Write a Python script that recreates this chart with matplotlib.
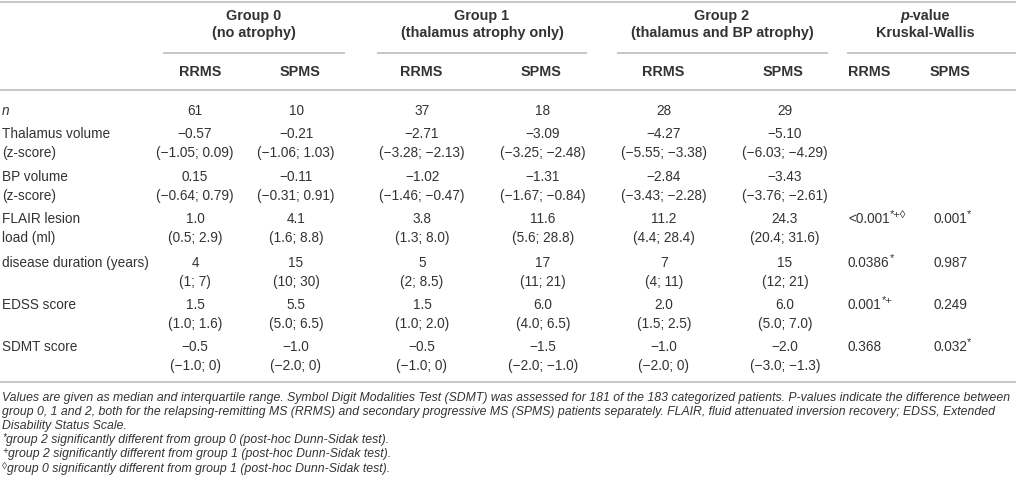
import matplotlib
matplotlib.use("Agg")
import matplotlib.pyplot as plt

# ---------------- data ----------------
groups = ["Group 0", "Group 1", "Group 2"]
group_sub = ["(no atrophy)", "(thalamus atrophy only)", "(thalamus and BP atrophy)"]
subtypes = ["RRMS", "SPMS"]

row_labels = [["n"], ["Thalamus volume", "(z-score)"], ["BP volume", "(z-score)"],
              ["FLAIR lesion", "load (ml)"], ["disease duration (years)"],
              ["EDSS score"], ["SDMT score"]]

n_vals = ["61", "10", "37", "18", "28", "29"]
thal_med = ["\u22120.57", "\u22120.21", "\u22122.71", "\u22123.09", "\u22124.27", "\u22125.10"]
thal_iqr = ["(\u22121.05; 0.09)", "(\u22121.06; 1.03)", "(\u22123.28; \u22122.13)",
            "(\u22123.25; \u22122.48)", "(\u22125.55; \u22123.38)", "(\u22126.03; \u22124.29)"]
bp_med = ["0.15", "\u22120.11", "\u22121.02", "\u22121.31", "\u22122.84", "\u22123.43"]
bp_iqr = ["(\u22120.64; 0.79)", "(\u22120.31; 0.91)", "(\u22121.46; \u22120.47)",
          "(\u22121.67; \u22120.84)", "(\u22123.43; \u22122.28)", "(\u22123.76; \u22122.61)"]
flair_med = ["1.0", "4.1", "3.8", "11.6", "11.2", "24.3"]
flair_iqr = ["(0.5; 2.9)", "(1.6; 8.8)", "(1.3; 8.0)", "(5.6; 28.8)", "(4.4; 28.4)", "(20.4; 31.6)"]
dur_med = ["4", "15", "5", "17", "7", "15"]
dur_iqr = ["(1; 7)", "(10; 30)", "(2; 8.5)", "(11; 21)", "(4; 11)", "(12; 21)"]
edss_med = ["1.5", "5.5", "1.5", "6.0", "2.0", "6.0"]
edss_iqr = ["(1.0; 1.6)", "(5.0; 6.5)", "(1.0; 2.0)", "(4.0; 6.5)", "(1.5; 2.5)", "(5.0; 7.0)"]
sdmt_med = ["\u22120.5", "\u22121.0", "\u22120.5", "\u22121.5", "\u22121.0", "\u22122.0"]
sdmt_iqr = ["(\u22121.0; 0)", "(\u22122.0; 0)", "(\u22121.0; 0)", "(\u22122.0; \u22121.0)",
            "(\u22122.0; 0)", "(\u22123.0; \u22121.3)"]

# p-values: (value, superscript) per row, RRMS and SPMS
p_rrms = [None, None, None, ("<0.001", "*+\u25ca"), ("0.0386", "*"), ("0.001", "*+"), ("0.368", "")]
p_spms = [None, None, None, ("0.001", "*"), ("0.987", ""), ("0.249", ""), ("0.032", "*")]

footnotes = [
    ("", "Values are given as median and interquartile range. Symbol Digit Modalities Test (SDMT) was assessed for 181 of the 183 categorized patients. P-values indicate the difference between"),
    ("", "group 0, 1 and 2, both for the relapsing-remitting MS (RRMS) and secondary progressive MS (SPMS) patients separately. FLAIR, fluid attenuated inversion recovery; EDSS, Extended"),
    ("", "Disability Status Scale."),
    ("*", "group 2 significantly different from group 0 (post-hoc Dunn-Sidak test)."),
    ("+", "group 2 significantly different from group 1 (post-hoc Dunn-Sidak test)."),
    ("\u25ca", "group 0 significantly different from group 1 (post-hoc Dunn-Sidak test)."),
]

# ---------------- layout ----------------
W, H = 1016, 498
FONT = "Liberation Sans"
FS = 9.8
HFS = 10.4
TXT = "#333333"
LINE = "#c6c6c6"

fig = plt.figure(figsize=(W / 100, H / 100), dpi=100)
ax = fig.add_axes([0, 0, 1, 1])
ax.set_xlim(0, W)
ax.set_ylim(H, 0)
ax.axis("off")
renderer = fig.canvas.get_renderer()


def txt(x, y, s, ha="center", **kw):
    kw.setdefault("fontsize", FS)
    kw.setdefault("color", TXT)
    kw.setdefault("family", FONT)
    return ax.text(x, y, s, ha=ha, va="center", **kw)


def right_edge(t):
    bb = t.get_window_extent(renderer=renderer)
    return ax.transData.inverted().transform((bb.x1, bb.y0))[0]


def sup_after(t, y, s, fs):
    if s:
        x = right_edge(t)
        txt(x + 0.3, y - 4.5, s, ha="left", fontsize=fs)


def hline(x0, x1, y):
    ax.plot([x0, x1], [y, y], color=LINE, lw=1.4, solid_capstyle="butt")


# header lines
hline(0, W, 2)
hline(0, W, 90)

group_centers = [254, 482, 722]
group_spans = [(163, 345), (377, 587), (617, 828)]
data_x = [195, 296, 422, 543, 664, 785]
head_x = [200, 300, 421, 541, 663, 783]

for g, sub, c, (a, b) in zip(groups, group_sub, group_centers, group_spans):
    txt(c, 16, g, fontweight="bold", fontsize=HFS)
    txt(c, 33, sub, fontweight="bold", fontsize=HFS)
    hline(a, b, 53)

# p-value header: italic "p" + bold "-value", centred together
probe = txt(925, 16, "p-value", fontweight="bold", fontsize=HFS)
bb = probe.get_window_extent(renderer=renderer)
x0 = ax.transData.inverted().transform((bb.x0, bb.y0))[0]
probe.remove()
tp = txt(x0, 16, "p", ha="left", style="italic", fontweight="bold", fontsize=HFS)
txt(right_edge(tp), 16, "-value", ha="left", fontweight="bold", fontsize=HFS)
txt(925, 33, "Kruskal-Wallis", fontweight="bold", fontsize=HFS)
hline(847, W, 53)

for i in range(6):
    txt(head_x[i], 72, subtypes[i % 2], fontweight="bold", fontsize=HFS)
txt(848, 72, "RRMS", ha="left", fontweight="bold", fontsize=HFS)
txt(930, 72, "SPMS", ha="left", fontweight="bold", fontsize=HFS)

# body rows
row_data = [
    (n_vals, None), (thal_med, thal_iqr), (bp_med, bp_iqr), (flair_med, flair_iqr),
    (dur_med, dur_iqr), (edss_med, edss_iqr), (sdmt_med, sdmt_iqr),
]
row_y = [111, 134, 177, 219, 263, 305, 347]
LINE_GAP = 18.5

for r, (labels, (med, iqr), y) in enumerate(zip(row_labels, row_data, row_y)):
    for k, lab in enumerate(labels):
        txt(2, y + k * LINE_GAP, lab, ha="left", style="italic" if lab == "n" else "normal")
    for i in range(6):
        txt(data_x[i], y, med[i])
        if iqr is not None:
            txt(data_x[i], y + LINE_GAP, iqr[i])
    if p_rrms[r] is not None:
        v, s = p_rrms[r]
        tt = txt(848, y, v, ha="left")
        sup_after(tt, y, s, 8.0)
    if p_spms[r] is not None:
        v, s = p_spms[r]
        tt = txt(933, y, v, ha="left")
        sup_after(tt, y, s, 8.0)

hline(0, W, 382)

# footnotes (italic), size fitted so that the first line spans the width
FFS = 8.6
probe = txt(2, 200, footnotes[0][1], ha="left", style="italic", fontsize=FFS)
wpx = probe.get_window_extent(renderer=renderer).width
probe.remove()
FFS = FFS * 1001.0 / wpx

fy0 = 398
for k, (mark, line) in enumerate(footnotes):
    y = fy0 + k * 14.1
    x = 2
    if mark:
        m = txt(x, y - 3, mark, ha="left", style="italic", fontsize=FFS * 0.8)
        x = right_edge(m) + 0.5
    txt(x, y, line, ha="left", style="italic", fontsize=FFS)

fig.savefig("out.png", dpi=100, facecolor="white")
